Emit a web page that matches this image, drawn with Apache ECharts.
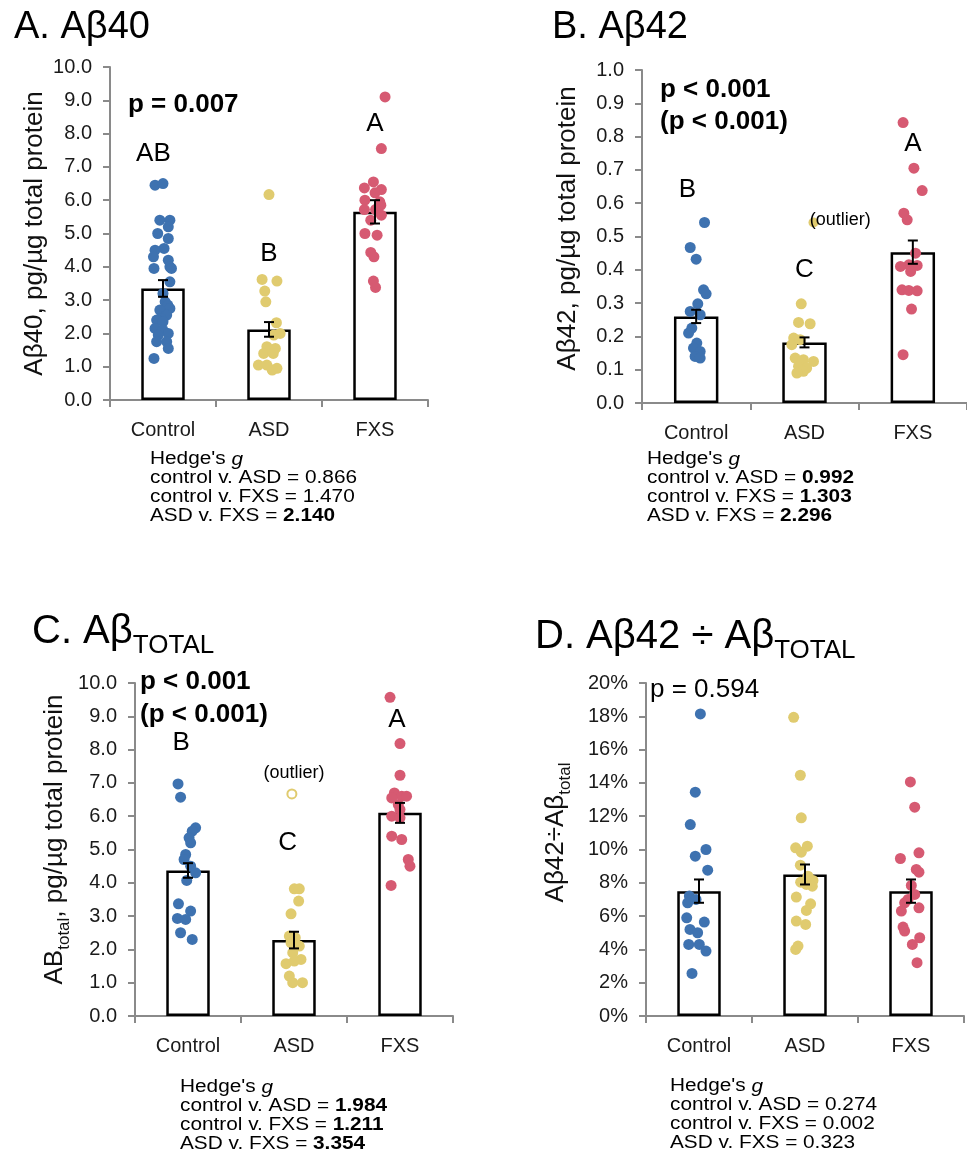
<!DOCTYPE html>
<html><head><meta charset="utf-8">
<script src="https://cdn.jsdelivr.net/npm/echarts@6/dist/echarts.min.js"></script>
<style>html,body{margin:0;padding:0;background:#fff}#c{width:967px;height:1170px}</style>
</head><body><div id="c"></div>
<script>
const categories = ['Control', 'ASD', 'FXS'];

// Panel A: Aβ40
const A_control = [6.45,6.5,5.4,5.4,5.2,5.0,4.85,4.55,4.5,4.3,4.2,4.0,3.95,3.95,3.55,3.2,2.95,2.85,2.75,2.7,2.55,2.45,2.4,2.35,2.15,2.1,2.0,1.95,1.75,1.75,1.55,1.25];
const A_control_jitter = [-0.075,0,-0.03,0.065,0.05,-0.05,0.05,0.01,-0.075,-0.09,0.05,0.065,-0.085,0.08,0.065,0,0.02,0.045,0.065,-0.03,0.035,-0.02,-0.06,0,-0.075,0,0.05,-0.045,-0.06,0.035,0.05,-0.085];
const A_asd = [6.17,3.62,3.57,3.27,2.95,2.32,2.0,1.95,1.6,1.55,1.4,1.4,1.05,1.05,0.95,0.9];
const A_asd_jitter = [0,-0.065,0.075,-0.04,-0.03,0.07,0.105,0.045,-0.02,0.06,-0.05,0.04,-0.1,-0.02,0.075,0.03];
const A_fxs = [9.1,7.55,6.55,6.37,6.32,6.22,6.0,5.95,5.85,5.72,5.72,5.55,5.4,5.0,4.95,4.43,4.3,3.57,3.38];
const A_fxs_jitter = [0.095,0.06,-0.015,-0.1,0.06,0,-0.095,0.045,0.055,-0.1,0.005,0.06,-0.04,-0.095,0.02,-0.04,-0.01,-0.015,0.005];
const A_mean = [3.35, 2.12, 5.65];
const A_sem = [0.25, 0.22, 0.35];
const A_letters = ['AB', 'B', 'A'];

// Panel B: Aβ42
const B_control = [0.542,0.467,0.432,0.34,0.328,0.298,0.275,0.265,0.225,0.21,0.18,0.165,0.155,0.14,0.135];
const B_control_jitter = [0.077,-0.055,0,0.068,0.092,0.015,-0.055,0.037,-0.04,-0.07,0.006,-0.025,0.037,-0.01,0.037];
const B_asd = [0.298,0.242,0.238,0.195,0.19,0.175,0.135,0.13,0.125,0.11,0.105,0.095,0.09];
const B_asd_jitter = [-0.03,-0.055,0.052,-0.1,-0.04,-0.117,-0.086,-0.01,0.083,-0.055,0.02,-0.01,-0.07];
const B_asd_outlier = [0.542];
const B_asd_outlier_jitter = [0.083];
const B_fxs = [0.842,0.705,0.638,0.57,0.55,0.45,0.415,0.413,0.41,0.395,0.34,0.338,0.337,0.282,0.145];
const B_fxs_jitter = [-0.09,0.01,0.086,-0.083,-0.052,0.025,-0.037,0.04,-0.114,-0.02,-0.1,-0.037,0.04,-0.012,-0.09];
const B_mean = [0.26, 0.182, 0.453];
const B_sem = [0.02, 0.015, 0.035];
const B_letters = ['B', 'C', 'A'];

// Panel C: Aβ total
const C_control = [6.97,6.57,5.65,5.55,5.35,5.2,4.85,4.7,4.5,4.3,4.07,3.37,3.15,2.93,2.9,2.5,2.3];
const C_control_jitter = [-0.094,-0.07,0.072,0.04,0.01,0.025,-0.022,-0.037,0.025,0.072,-0.012,-0.09,0.025,-0.1,-0.022,-0.07,0.04];
const C_asd = [3.82,3.82,3.45,3.07,2.4,2.35,2.2,2.1,1.9,1.7,1.65,1.57,1.2,1.0,1.0];
const C_asd_jitter = [0.003,0.05,0.044,-0.028,-0.044,0.012,-0.028,0.05,-0.012,0.066,0.003,-0.075,-0.044,-0.012,0.08];
const C_asd_outlier = [6.67];
const C_asd_outlier_jitter = [-0.02];
const C_fxs = [9.57,8.18,7.23,6.7,6.6,6.6,6.55,6.35,6.2,6.0,5.95,5.4,5.3,4.7,4.5,3.92];
const C_fxs_jitter = [-0.094,0,0,-0.053,0.016,0.062,-0.078,-0.016,0,-0.078,0,-0.078,0.016,0.078,0.094,-0.084];
const C_mean = [4.37, 2.28, 6.1];
const C_sem = [0.22, 0.25, 0.3];
const C_letters = ['B', 'C', 'A'];

// Panel D: Aβ42 ÷ Aβ total (percent)
const D_control = [18.14,13.44,11.5,10.0,9.6,8.76,7.2,7.0,6.8,5.9,5.64,5.2,5.0,4.3,4.3,3.9,2.56];
const D_control_jitter = [0.013,-0.035,-0.082,0.066,-0.035,0.082,-0.091,-0.028,-0.107,-0.116,0.05,-0.085,-0.013,-0.097,0.003,0.066,-0.066];
const D_asd = [17.94,14.46,11.9,10.2,10.1,9.84,9.06,8.4,8.14,8.04,7.9,7.8,7.14,6.74,6.34,5.7,5.5,4.2,4.0];
const D_asd_jitter = [-0.107,-0.044,-0.035,0.022,-0.088,-0.035,-0.044,0.028,0.075,-0.041,0.013,0.069,-0.082,0.053,0.013,-0.082,0.006,-0.066,-0.088];
const D_fxs = [14.06,12.54,9.8,9.46,8.8,8.64,7.84,7.3,7.0,6.8,6.5,6.3,5.34,5.1,4.7,4.3,3.2];
const D_fxs_jitter = [-0.006,0.035,0.075,-0.1,0.05,0.075,0.003,0.035,-0.028,-0.06,0.075,-0.091,-0.075,-0.06,0.082,0.013,0.057];
const D_mean = [7.5, 8.5, 7.5];
const D_sem = [0.7, 0.6, 0.7];

// ---------- layout / style ----------
const FONT = "'Liberation Sans', Arial, sans-serif";
const COLORS = ['#3E72B0', '#E0CB6F', '#D65A72'];
const AXIS_GRAY = '#8a8a8a';

const panels = [
  { grid: {left: 110, top: 67, width: 318, height: 333}, max: 10, interval: 1, fmt: v => v.toFixed(1),
    groups: [[A_control, A_control_jitter], [A_asd, A_asd_jitter], [A_fxs, A_fxs_jitter]],
    mean: A_mean, sem: A_sem, letters: A_letters, letterPos: [[-0.09, 7.4], [0, 4.4], [0, 8.3]],
    name: '{n|Aβ40, pg/µg total protein}', nameGap: 62, namePad: [0,0,0,0] },
  { grid: {left: 642, top: 70, width: 325, height: 333}, max: 1, interval: 0.1, fmt: v => v.toFixed(1),
    groups: [[B_control, B_control_jitter], [B_asd, B_asd_jitter], [B_fxs, B_fxs_jitter]],
    outlier: [B_asd_outlier, B_asd_outlier_jitter], outlierFilled: true,
    mean: B_mean, sem: B_sem, letters: B_letters, letterPos: [[-0.08, 0.64], [0, 0.40], [0, 0.778]],
    outlierLabelPos: [0.33, 0.55],
    name: '{n|Aβ42, pg/µg total protein}', nameGap: 61, namePad: [0,0,0,16] },
  { grid: {left: 135, top: 683, width: 318, height: 333}, max: 10, interval: 1, fmt: v => v.toFixed(1),
    groups: [[C_control, C_control_jitter], [C_asd, C_asd_jitter], [C_fxs, C_fxs_jitter]],
    outlier: [C_asd_outlier, C_asd_outlier_jitter], outlierFilled: false,
    mean: C_mean, sem: C_sem, letters: C_letters, letterPos: [[-0.065, 8.2], [-0.06, 5.2], [-0.03, 8.9]],
    outlierLabelPos: [0, 7.3],
    name: '{n|AB}{s|total}{n|, pg/µg total protein}', nameGap: 62, namePad: [0,0,0,20] },
  { grid: {left: 646, top: 683, width: 318, height: 333}, max: 20, interval: 2, fmt: v => v + '%',
    groups: [[D_control, D_control_jitter], [D_asd, D_asd_jitter], [D_fxs, D_fxs_jitter]],
    mean: D_mean, sem: D_sem, letters: null,
    name: '{n|Aβ42÷Aβ}{s|total}', nameGap: 72, namePad: [0,0,0,34] }
];

const grid = [], xAxis = [], yAxis = [], series = [];
panels.forEach((p, pi) => {
  grid.push(Object.assign({outerBoundsMode: 'none', containLabel: false}, p.grid));
  xAxis.push({
    type: 'category', gridIndex: pi, data: categories,
    axisLine: {show: true, onZero: false, lineStyle: {color: AXIS_GRAY, width: 2}},
    axisTick: {show: true, length: 7, lineStyle: {color: AXIS_GRAY, width: 2}},
    axisLabel: {fontSize: 20, color: '#1a1a1a', margin: 20, fontFamily: FONT},
    splitLine: {show: false}
  });
  xAxis.push({type: 'value', gridIndex: pi, min: -0.5, max: 2.5, show: false});
  yAxis.push({
    type: 'value', gridIndex: pi, min: 0, max: p.max, interval: p.interval,
    axisLine: {show: true, onZero: false, lineStyle: {color: AXIS_GRAY, width: 2}},
    axisTick: {show: true, length: 7, lineStyle: {color: AXIS_GRAY, width: 2}},
    axisLabel: {fontSize: 20, color: '#1a1a1a', margin: 18, fontFamily: FONT, formatter: p.fmt},
    splitLine: {show: false},
    name: p.name, nameLocation: 'middle', nameGap: p.nameGap, nameRotate: 90,
    nameTextStyle: {
      fontFamily: FONT, color: '#111', padding: p.namePad,
      rich: {
        n: {fontSize: 26, fontFamily: FONT, color: '#111'},
        s: {fontSize: 17, fontFamily: FONT, color: '#111', padding: [20, 0, 0, 0]}
      }
    }
  });
  const xc = 2 * pi, xv = 2 * pi + 1;
  series.push({
    type: 'bar', xAxisIndex: xc, yAxisIndex: pi, data: p.mean, barWidth: '41%', z: 1,
    itemStyle: {color: '#fff', borderColor: '#000', borderWidth: 2.5}, silent: true
  });
  p.groups.forEach((g, gi) => {
    series.push({
      type: 'scatter', xAxisIndex: xv, yAxisIndex: pi, z: 2, symbolSize: 11,
      itemStyle: {color: COLORS[gi], opacity: 1},
      data: g[0].map((v, k) => [gi + g[1][k], v])
    });
  });
  const labelBase = {show: true, position: 'inside', formatter: '{b}', color: '#000', fontFamily: FONT,
    textBorderWidth: 0, opacity: 1};
  if (p.outlier) {
    series.push({
      type: 'scatter', xAxisIndex: xv, yAxisIndex: pi, z: 2, symbolSize: p.outlierFilled ? 10 : 9,
      itemStyle: p.outlierFilled ? {color: COLORS[1], opacity: 1} : {color: '#fff', borderColor: COLORS[1], borderWidth: 2, opacity: 1},
      data: p.outlier[0].map((v, k) => [1 + p.outlier[1][k], v])
    });
    series.push({
      type: 'scatter', xAxisIndex: xv, yAxisIndex: pi, z: 5, symbolSize: 0,
      itemStyle: {color: 'rgba(0,0,0,0)', opacity: 1},
      label: Object.assign({fontSize: 18}, labelBase),
      data: [{name: '(outlier)', value: [1 + p.outlierLabelPos[0], p.outlierLabelPos[1]]}]
    });
  }
  series.push({
    type: 'custom', xAxisIndex: xc, yAxisIndex: pi, z: 4,
    data: p.mean.map((m, i) => [i, m, p.sem[i]]),
    renderItem: (params, api) => {
      const x = api.value(0), m = api.value(1), s = api.value(2);
      const t = api.coord([x, m + s]), b = api.coord([x, m - s]);
      const cw = 5, st = {stroke: '#000', lineWidth: 2};
      return {type: 'group', children: [
        {type: 'line', shape: {x1: t[0], y1: t[1], x2: b[0], y2: b[1]}, style: st},
        {type: 'line', shape: {x1: t[0] - cw, y1: t[1], x2: t[0] + cw, y2: t[1]}, style: st},
        {type: 'line', shape: {x1: b[0] - cw, y1: b[1], x2: b[0] + cw, y2: b[1]}, style: st}
      ]};
    }
  });
  if (p.letters) {
    series.push({
      type: 'scatter', xAxisIndex: xv, yAxisIndex: pi, z: 5, symbolSize: 0,
      itemStyle: {color: 'rgba(0,0,0,0)', opacity: 1},
      label: Object.assign({fontSize: 26}, labelBase),
      data: p.letters.map((l, i) => ({name: l, value: [i + p.letterPos[i][0], p.letterPos[i][1]]}))
    });
  }
});

function txt(x, y, text, opts, extra) {
  return Object.assign({type: 'text', x: x, y: y, z: 10, style: Object.assign({
    text: text, fontFamily: FONT, fill: '#000', align: 'left', verticalAlign: 'middle'}, opts)}, extra || {});
}
const hedgeRich = {
  b: {fontWeight: 'bold', fontSize: 18, lineHeight: 19, fontFamily: FONT, fill: '#000'},
  i: {fontStyle: 'italic', fontSize: 18, lineHeight: 19, fontFamily: FONT, fill: '#000'}
};
function hedge(x, y, lines) {
  return txt(x, y, lines.join('\n'), {fontSize: 18, lineHeight: 19, verticalAlign: 'top', rich: hedgeRich},
    {scaleX: 1.155});
}
const titleRich = {
  m: {fontSize: 40, fontFamily: FONT, fill: '#000'},
  s: {fontSize: 26, fontFamily: FONT, fill: '#000', padding: [28, 0, 0, 0]}
};

const graphic = [
  txt(14, 28, 'A. Aβ40', {fontSize: 38}),
  txt(552, 28, 'B. Aβ42', {fontSize: 38}),
  txt(32, 632, '{m|C. Aβ}{s|TOTAL}', {rich: titleRich}),
  txt(535, 637, '{m|D. Aβ42 ÷ Aβ}{s|TOTAL}', {rich: titleRich}),
  txt(128, 105, 'p = 0.007', {fontSize: 26, fontWeight: 'bold'}),
  txt(660, 106, 'p < 0.001\n(p < 0.001)', {fontSize: 26, fontWeight: 'bold', lineHeight: 32}),
  txt(140, 698, 'p < 0.001\n(p < 0.001)', {fontSize: 26, fontWeight: 'bold', lineHeight: 33}),
  txt(650, 690, 'p = 0.594', {fontSize: 26}),
  hedge(150, 450, ["Hedge's {i|g}", 'control v. ASD = 0.866', 'control v. FXS = 1.470', 'ASD v. FXS = {b|2.140}']),
  hedge(647, 450, ["Hedge's {i|g}", 'control v. ASD = {b|0.992}', 'control v. FXS = {b|1.303}', 'ASD v. FXS = {b|2.296}']),
  hedge(180, 1078, ["Hedge's {i|g}", 'control v. ASD = {b|1.984}', 'control v. FXS = {b|1.211}', 'ASD v. FXS = {b|3.354}']),
  hedge(670, 1077, ["Hedge's {i|g}", 'control v. ASD = 0.274', 'control v. FXS = 0.002', 'ASD v. FXS = 0.323'])
];

const chart = echarts.init(document.getElementById('c'), null, {renderer: 'canvas'});
chart.setOption({
  backgroundColor: '#fff', animation: false,
  textStyle: {fontFamily: FONT},
  grid: grid, xAxis: xAxis, yAxis: yAxis, series: series, graphic: graphic
});
</script>
</body></html>
